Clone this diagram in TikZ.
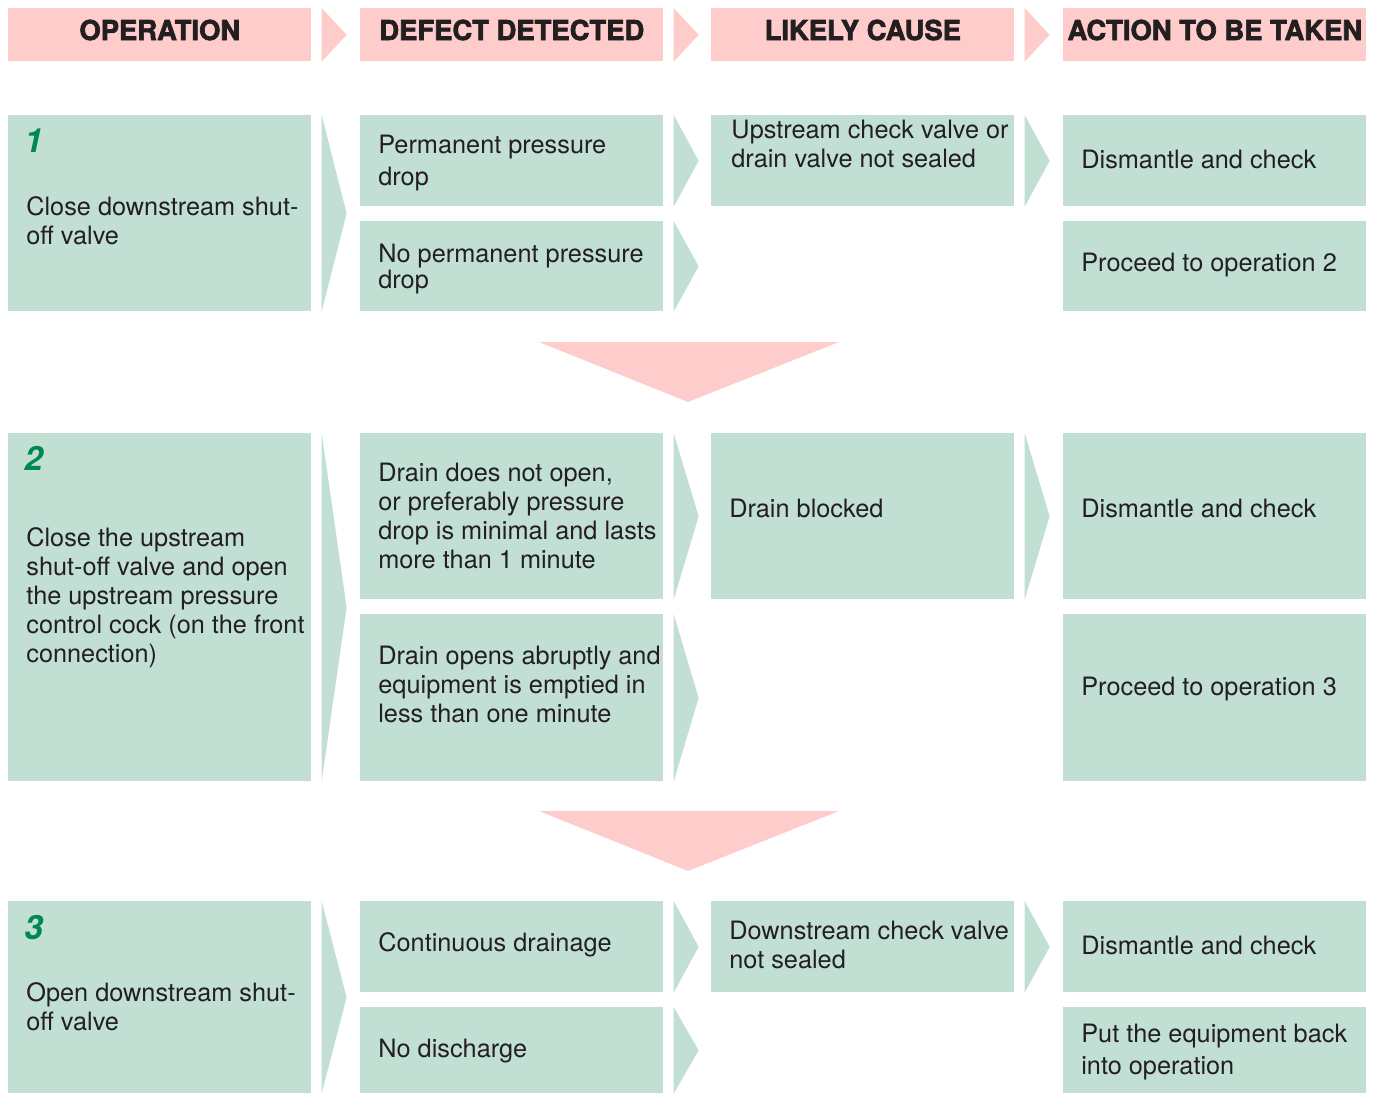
\documentclass[tikz,border=0pt]{standalone}
\usepackage{fontspec}
\setmainfont{TeX Gyre Heros}
\newfontfamily\headfont{TeX Gyre Heros}[BoldFeatures={FakeBold=2.5}]
\usetikzlibrary{positioning}
\definecolor{headpink}{RGB}{255,204,204}
\definecolor{cellgreen}{RGB}{194,223,212}
\definecolor{ink}{RGB}{35,31,32}
\definecolor{numgreen}{RGB}{0,135,85}
\tikzstyle{head} = [rectangle, anchor=north west, minimum width=6.06cm, minimum height=1.06cm, inner sep=0, text depth=0.2cm, fill=headpink, text=ink, font=\headfont\bfseries\fontsize{15.6}{18}\selectfont]
\tikzstyle{cell} = [rectangle, anchor=north west, minimum width=6.06cm, inner sep=0, fill=cellgreen]
\tikzstyle{txt} = [anchor=west, align=left, inner sep=0, text=ink, font=\fontsize{14.4}{16.5}\selectfont]
\tikzstyle{txtwide} = [txt, font=\fontsize{14.4}{18.2}\selectfont]
\tikzstyle{txttight} = [txt, font=\fontsize{14.4}{15}\selectfont]
\tikzstyle{num} = [anchor=base west, inner sep=0, text=numgreen, font=\bfseries\itshape\fontsize{19}{19}\selectfont]
\tikzstyle{chev} = [fill=cellgreen]
\tikzstyle{hchev} = [fill=headpink]
\tikzstyle{down} = [fill=headpink]
\newcommand{\nextarrow}[2]{\fill[#2] ([xshift=0.2cm]#1.north east) -- ([xshift=0.7cm]#1.east) -- ([xshift=0.2cm]#1.south east) -- cycle;}

\begin{document}
\begin{tikzpicture}[x=0.02cm, y=-0.02cm]
\useasboundingbox (0,0) rectangle (1375,1092);

% header row
\node[head] (h1) at (8,8) {OPERATION};
\node[head] (h2) at (360,8) {DEFECT DETECTED};
\node[head] (h3) at (711,8) {LIKELY CAUSE};
\node[head] (h4) at (1063,8) {ACTION TO BE TAKEN};
\nextarrow{h1}{hchev}
\nextarrow{h2}{hchev}
\nextarrow{h3}{hchev}

% operation 1
\node[cell, minimum height=3.92cm] (op1) at (8,115) {};
\node[cell, minimum height=1.82cm] (def1a) at (360,115) {};
\node[cell, minimum height=1.80cm] (def1b) at (360,221) {};
\node[cell, minimum height=1.82cm] (cau1) at (711,115) {};
\node[cell, minimum height=1.82cm] (act1a) at (1063,115) {};
\node[cell, minimum height=1.80cm] (act1b) at (1063,221) {};
\node[num] (n1) at (24,152) {1};
\node[txt] (op1t) at (26,221) {Close downstream shut-\\off valve};
\node[txtwide] (def1at) at (378,163) {Permanent pressure\\drop};
\node[txttight] (def1bt) at (378,269) {No permanent pressure\\drop};
\node[txt] (cau1t) at (731,144) {Upstream check valve or\\drain valve not sealed};
\node[txt] (act1at) at (1081,159) {Dismantle and check};
\node[txt] (act1bt) at (1081,265) {Proceed to operation 2};
\nextarrow{op1}{chev}
\nextarrow{def1a}{chev}
\nextarrow{def1b}{chev}
\nextarrow{cau1}{chev}

\fill[down] (539,342) -- (839,342) -- (688,402) -- cycle;

% operation 2
\node[cell, minimum height=6.96cm] (op2) at (8,433) {};
\node[cell, minimum height=3.32cm] (def2a) at (360,433) {};
\node[cell, minimum height=3.34cm] (def2b) at (360,614) {};
\node[cell, minimum height=3.32cm] (cau2) at (711,433) {};
\node[cell, minimum height=3.32cm] (act2a) at (1063,433) {};
\node[cell, minimum height=3.34cm] (act2b) at (1063,614) {};
\node[num] (n2) at (24,470) {2};
\node[txt] (op2t) at (26,598) {Close the upstream\\shut-off valve and open\\the upstream pressure\\control cock (on the front\\connection)};
\node[txt] (def2at) at (378,516) {Drain does not open,\\or preferably pressure\\drop is minimal and lasts\\more than 1 minute};
\node[txt] (def2bt) at (378,684) {Drain opens abruptly and\\equipment is emptied in\\less than one minute};
\node[txt] (cau2t) at (729,508) {Drain blocked};
\node[txt] (act2at) at (1081,508) {Dismantle and check};
\node[txt] (act2bt) at (1081,689) {Proceed to operation 3};
\nextarrow{op2}{chev}
\nextarrow{def2a}{chev}
\nextarrow{def2b}{chev}
\nextarrow{cau2}{chev}

\fill[down] (539,811) -- (839,811) -- (688,871) -- cycle;

% operation 3
\node[cell, minimum height=3.84cm] (op3) at (8,901) {};
\node[cell, minimum height=1.82cm] (def3a) at (360,901) {};
\node[cell, minimum height=1.72cm] (def3b) at (360,1007) {};
\node[cell, minimum height=1.82cm] (cau3) at (711,901) {};
\node[cell, minimum height=1.82cm] (act3a) at (1063,901) {};
\node[cell, minimum height=1.72cm] (act3b) at (1063,1007) {};
\node[num] (n3) at (24,939) {3};
\node[txt] (op3t) at (26,1007) {Open downstream shut-\\off valve};
\node[txt] (def3at) at (378,945) {Continuous drainage};
\node[txt] (def3bt) at (378,1051) {No discharge};
\node[txt] (cau3t) at (729,945) {Downstream check valve\\not sealed};
\node[txt] (act3at) at (1081,945) {Dismantle and check};
\node[txtwide] (act3bt) at (1081,1052) {Put the equipment back\\into operation};
\nextarrow{op3}{chev}
\nextarrow{def3a}{chev}
\nextarrow{def3b}{chev}
\nextarrow{cau3}{chev}
\end{tikzpicture}
\end{document}
